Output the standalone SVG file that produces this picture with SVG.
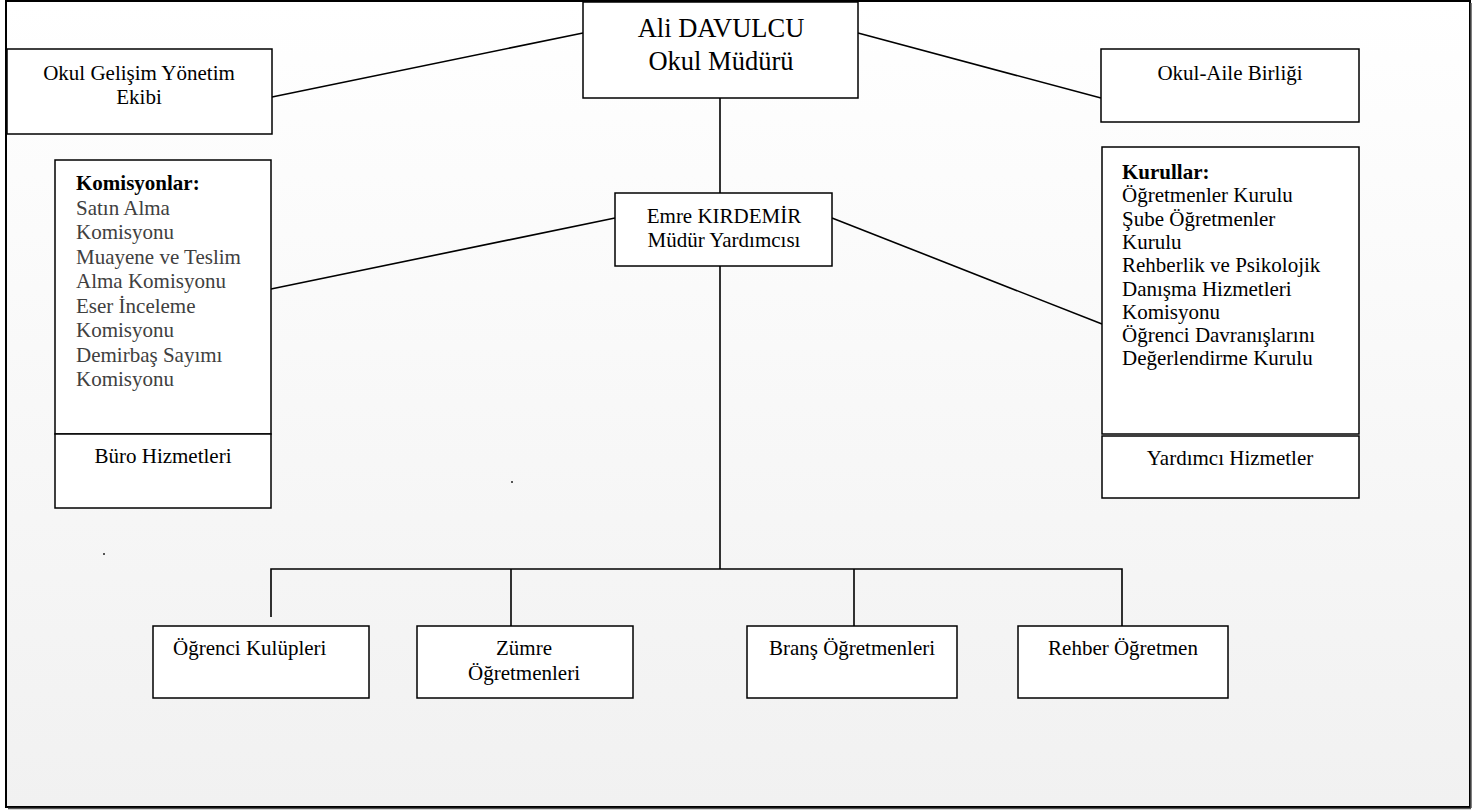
<svg xmlns="http://www.w3.org/2000/svg" width="1484" height="810" viewBox="0 0 1484 810">
<defs>
<linearGradient id="bg" x1="0" y1="0" x2="0" y2="1">
<stop offset="0" stop-color="#ffffff"/>
<stop offset="1" stop-color="#f1f1f1"/>
</linearGradient>
<style>
.box{fill:#ffffff;stroke:#000;stroke-width:1.5}
.ln{stroke:#000;stroke-width:1.6;fill:none}
text{font-family:"Liberation Serif","Times New Roman",serif;fill:#000}
.t21{font-size:21px}
.c{text-anchor:middle}
.gray{fill:#404040}
.b{font-weight:bold}
</style>
</defs>
<rect x="0" y="0" width="1484" height="810" fill="#ffffff"/>
<rect x="6" y="1" width="1464" height="806" fill="url(#bg)" stroke="#000" stroke-width="2"/>
<line x1="1471" y1="3" x2="1471" y2="808" stroke="#555" stroke-width="1.5"/>
<line x1="8" y1="808.5" x2="1471" y2="808.5" stroke="#555" stroke-width="1.5"/>
<rect x="511" y="481" width="2" height="2" fill="#555"/>
<rect x="103" y="553" width="2" height="2" fill="#555"/>

<g id="connectors">
<line class="ln" x1="272" y1="97" x2="583" y2="33"/>
<line class="ln" x1="858" y1="33" x2="1101" y2="98"/>
<line class="ln" x1="720" y1="98" x2="720" y2="193"/>
<line class="ln" x1="615" y1="218" x2="271" y2="289"/>
<line class="ln" x1="832" y1="218" x2="1102" y2="324"/>
<line class="ln" x1="720" y1="266" x2="720" y2="569"/>
<polyline class="ln" points="271,617 271,569 1122,569 1122,626"/>
<line class="ln" x1="511" y1="569" x2="511" y2="626"/>
<line class="ln" x1="854" y1="569" x2="854" y2="626"/>
</g>

<g id="node-mudur">
<rect class="box" x="583" y="2" width="275" height="96"/>
<text class="c" x="721" y="37" font-size="26.5">Ali DAVULCU</text>
<text class="c" x="721" y="70" font-size="26.5">Okul Müdürü</text>
</g>

<g id="node-ogye">
<rect class="box" x="7" y="49" width="265" height="85"/>
<text class="t21 c" x="139" y="80">Okul Gelişim Yönetim</text>
<text class="t21 c" x="139" y="104">Ekibi</text>
</g>

<g id="node-okul-aile">
<rect class="box" x="1101" y="49" width="258" height="73"/>
<text class="t21 c" x="1230" y="80">Okul-Aile Birliği</text>
</g>

<g id="node-mudur-yrd">
<rect class="box" x="615" y="193" width="217" height="73"/>
<text class="t21 c" x="724" y="223">Emre KIRDEMİR</text>
<text class="t21 c" x="724" y="247">Müdür Yardımcısı</text>
</g>

<g id="node-komisyonlar">
<rect class="box" x="55" y="160" width="216" height="274"/>
<text class="t21 b" x="76" y="190">Komisyonlar:</text>
<text class="t21 gray" x="76" y="214.5">Satın Alma</text>
<text class="t21 gray" x="76" y="239">Komisyonu</text>
<text class="t21 gray" x="76" y="263.5">Muayene ve Teslim</text>
<text class="t21 gray" x="76" y="288">Alma Komisyonu</text>
<text class="t21 gray" x="76" y="312.5">Eser İnceleme</text>
<text class="t21 gray" x="76" y="337">Komisyonu</text>
<text class="t21 gray" x="76" y="361.5">Demirbaş Sayımı</text>
<text class="t21 gray" x="76" y="386">Komisyonu</text>
</g>

<g id="node-buro">
<rect class="box" x="55" y="434" width="216" height="74"/>
<text class="t21 c" x="163" y="463">Büro Hizmetleri</text>
</g>

<g id="node-kurullar">
<rect class="box" x="1102" y="147" width="257" height="287"/>
<text class="t21 b" x="1122" y="179">Kurullar:</text>
<text class="t21" x="1122" y="202.3">Öğretmenler Kurulu</text>
<text class="t21" x="1122" y="225.6">Şube Öğretmenler</text>
<text class="t21" x="1122" y="248.9">Kurulu</text>
<text class="t21" x="1122" y="272.2">Rehberlik ve Psikolojik</text>
<text class="t21" x="1122" y="295.5">Danışma Hizmetleri</text>
<text class="t21" x="1122" y="318.8">Komisyonu</text>
<text class="t21" x="1122" y="342.1">Öğrenci Davranışlarını</text>
<text class="t21" x="1122" y="365.4">Değerlendirme Kurulu</text>
</g>

<g id="node-yardimci">
<rect class="box" x="1102" y="436" width="257" height="62"/>
<text class="t21 c" x="1230" y="465">Yardımcı Hizmetler</text>
</g>

<g id="node-kulupler">
<rect class="box" x="153" y="626" width="216" height="72"/>
<text class="t21" x="173" y="655">Öğrenci Kulüpleri</text>
</g>

<g id="node-zumre">
<rect class="box" x="417" y="626" width="216" height="72"/>
<text class="t21 c" x="524" y="655">Zümre</text>
<text class="t21 c" x="524" y="680">Öğretmenleri</text>
</g>

<g id="node-brans">
<rect class="box" x="747" y="626" width="210" height="72"/>
<text class="t21 c" x="852" y="655">Branş Öğretmenleri</text>
</g>

<g id="node-rehber">
<rect class="box" x="1018" y="626" width="210" height="72"/>
<text class="t21 c" x="1123" y="655">Rehber Öğretmen</text>
</g>
</svg>
